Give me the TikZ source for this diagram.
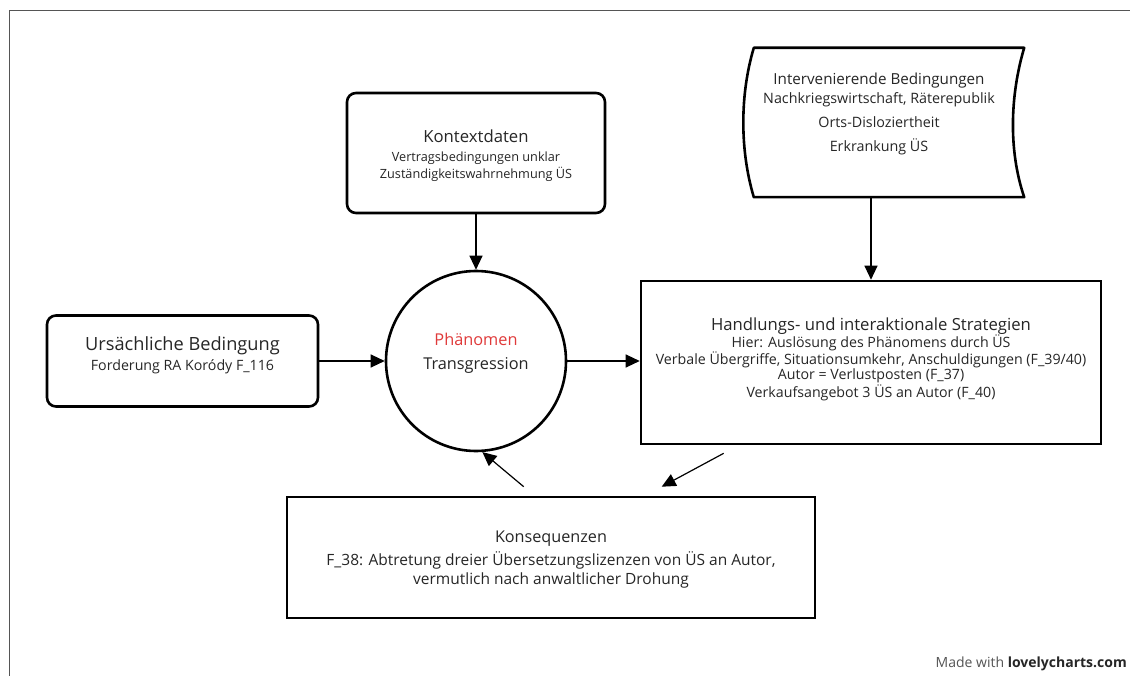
\documentclass[tikz,border=0pt]{standalone}
\usepackage{fontspec}
\setmainfont{Open Sans}
\usetikzlibrary{arrows.meta,calc}
\definecolor{txt}{HTML}{262626}
\definecolor{phencol}{HTML}{E03A3A}
\definecolor{framecol}{HTML}{555555}
\definecolor{creditgray}{HTML}{555555}
\newcommand{\fsz}[2]{\fontsize{#1}{#2}\selectfont}
\begin{document}
\begin{tikzpicture}[x=1pt,y=-1pt,
  box/.style={draw=black, line width=2.6pt, inner sep=0pt},
  rbox/.style={box, rounded corners=9pt},
  conn/.style={line width=1.2pt, -{Triangle[length=14pt,width=13pt]}},
  lbl/.style={anchor=base, align=center, text=txt, inner sep=0pt},
]
\useasboundingbox (0,0) rectangle (1130,676);
\fill[white] (0,0) rectangle (1130,676);
\draw[framecol, line width=1pt] (9.5,676) -- (9.5,10.5) -- (1130,10.5);

% shapes
\node[rbox, minimum width=258pt, minimum height=120pt] (kontext) at (476,153) {};
\node[rbox, minimum width=271pt, minimum height=91pt] (ursa) at (182.5,361) {};
\node[draw, circle, line width=2.6pt, minimum size=180pt, inner sep=0pt] (phen) at (476,361) {};
\node[box, minimum width=460pt, minimum height=163pt] (hand) at (871,362.5) {};
\node[box, minimum width=528pt, minimum height=121pt] (kons) at (551,557.5) {};
\node[minimum width=280pt, minimum height=149pt, inner sep=0pt] (interv) at (884,122.5) {};
\draw[line width=2.6pt, line join=round]
  (interv.north west) ++(10,0) coordinate (iNW) -- (interv.north east) coordinate (iNE)
  .. controls ++(-14,47) and ++(-16,-47) .. (interv.south east)
  -- ([xshift=10pt]interv.south west)
  .. controls ++(-14,-47) and ++(-14,47) .. (iNW) -- cycle;

% connectors
\draw[conn] (kontext.south) -- (phen.north);
\draw[conn] (ursa.east) -- (phen.west);
\draw[conn] (phen.east) -- (phen.east -| hand.west);
\draw[conn] (hand.north |- interv.south) -- (hand.north);
\draw[conn] ($(hand.south west)+(84,8)$) -- ($(kons.north west)+(376,-9)$);
\draw[conn] ($(kons.north west)+(238,-9)$) -- (phen.-86);

% labels
\node[lbl, font=\fsz{16.7}{20}] (kontextT) at (476,143) {Kontextdaten};
\node[lbl, font=\fsz{12.7}{17}] (kontextS) at (476,178.2) {Vertragsbedingungen unklar\\Zuständigkeitswahrnehmung ÜS};
\node[lbl, font=\fsz{18.2}{22}] (ursaT) at (182.5,350) {Ursächliche Bedingung};
\node[lbl, font=\fsz{14.2}{17}] (ursaS) at (182.5,370.7) {Forderung RA Koródy F\_116};
\node[lbl, font=\fsz{16.3}{20}, text=phencol] (phenT) at (476,345.4) {Phänomen};
\node[lbl, font=\fsz{16.3}{20}] (phenS) at (476,369.4) {Transgression};
\node[lbl, font=\fsz{15.2}{18}] (intervT) at (879,85) {Intervenierende Bedingungen};
\node[lbl, font=\fsz{14.3}{24}] (intervS) at (879,152) {Nachkriegswirtschaft, Räterepublik\\Orts-Disloziertheit\\Erkrankung ÜS};
\node[lbl, font=\fsz{16.7}{20}] (handT) at (871,330.5) {Handlungs- und interaktionale Strategien};
\node[lbl, font=\fsz{14.2}{15.5}] (handS) at (871,397) {Hier: Auslösung des Phänomens durch ÜS\\Verbale Übergriffe, Situationsumkehr, Anschuldigungen (F\_39/40)\\Autor = Verlustposten (F\_37)\\Verkaufsangebot 3 ÜS an Autor (F\_40)};
\node[lbl, font=\fsz{16.2}{20}] (konsT) at (551,542.4) {Konsequenzen};
\node[lbl, font=\fsz{15.5}{19.5}] (konsS) at (551,584.5) {F\_38: Abtretung dreier Übersetzungslizenzen von ÜS an Autor,\\vermutlich nach anwaltlicher Drohung};
\node[anchor=base east, font=\fsz{14}{16}, inner sep=0pt, text=txt] (credit) at (1127,667) {\textcolor{creditgray}{Made with} \textbf{lovelycharts.com}};
\end{tikzpicture}
\end{document}
